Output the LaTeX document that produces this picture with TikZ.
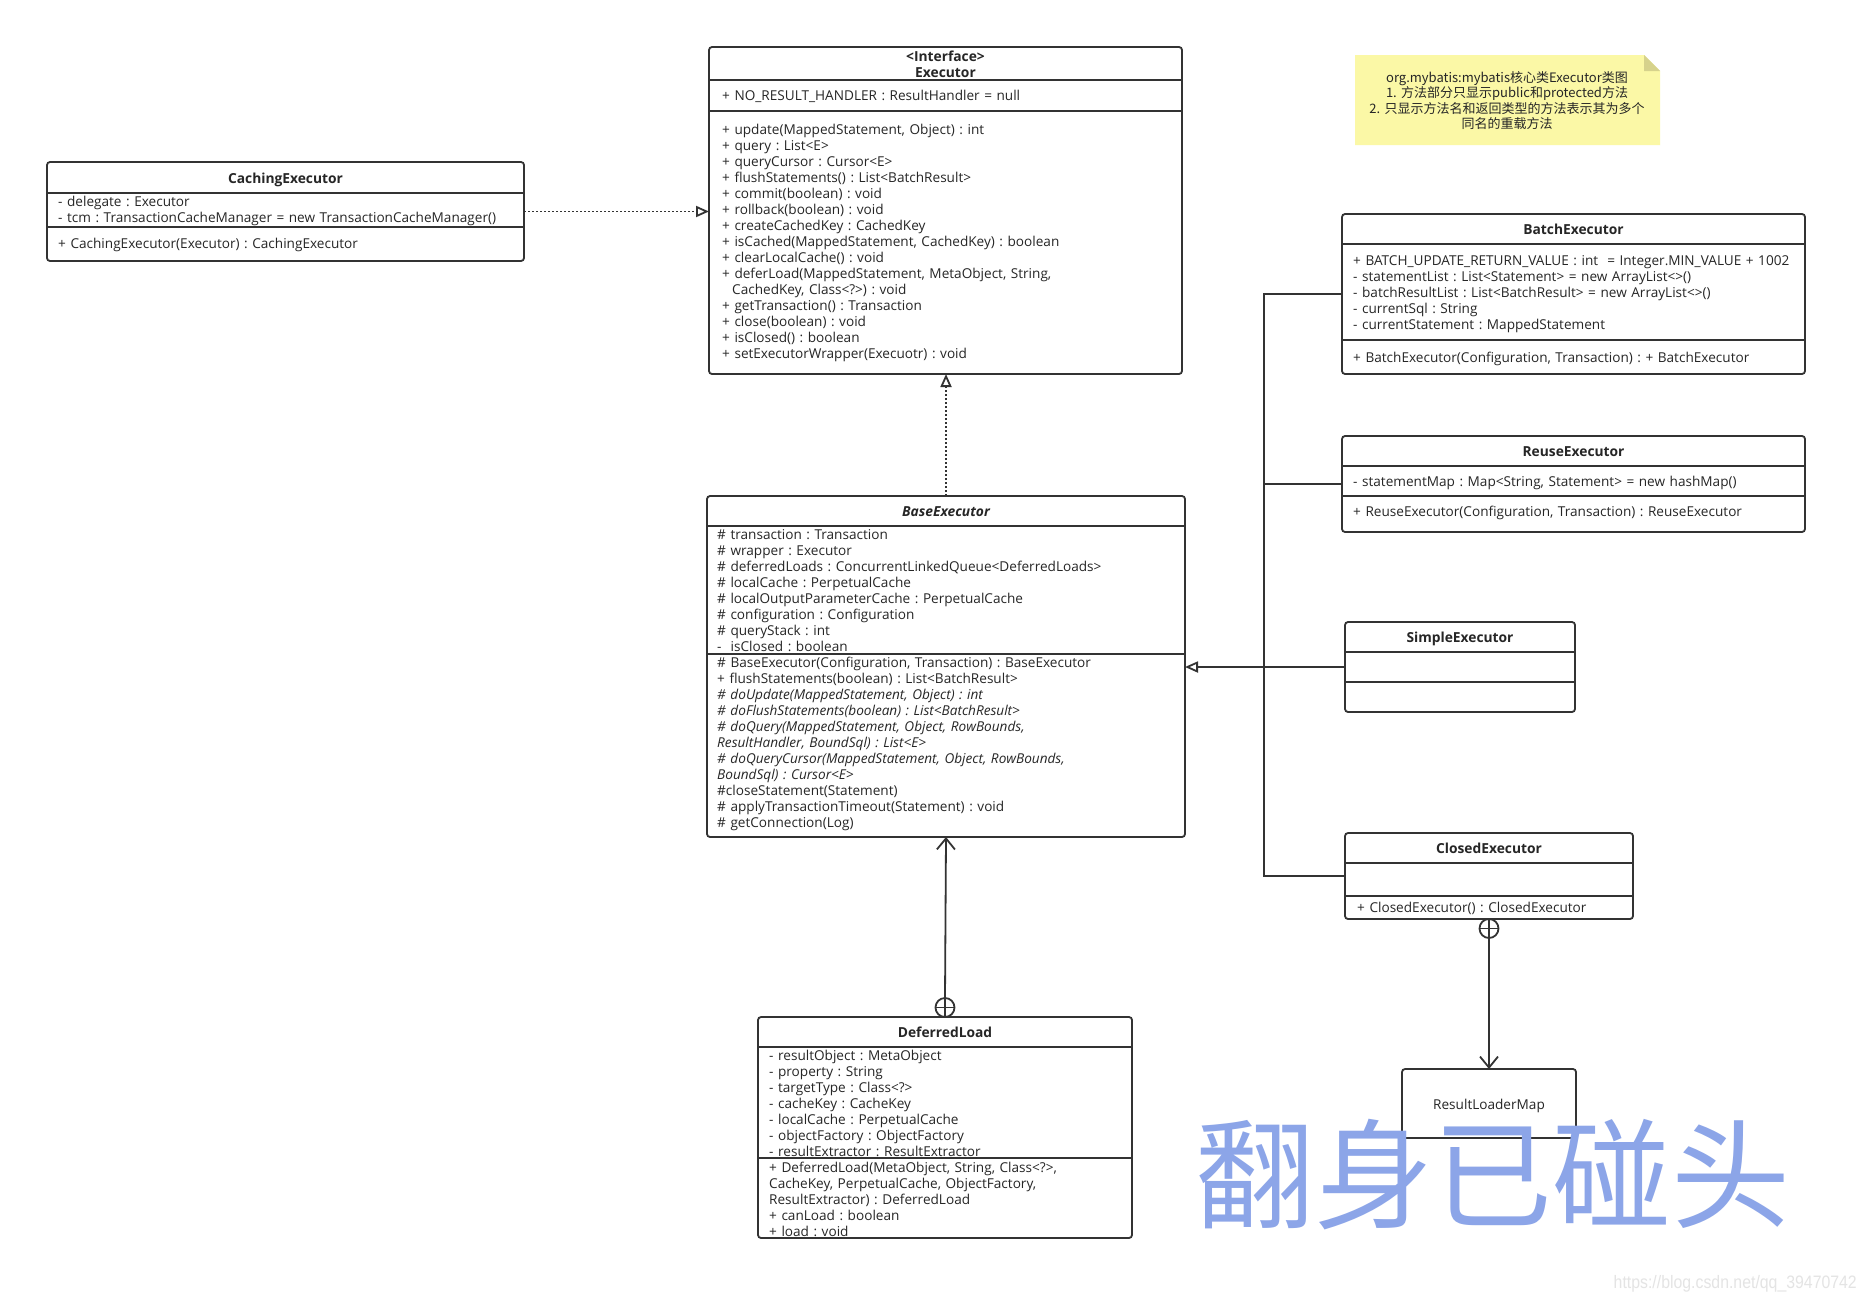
\documentclass[tikz,border=0pt]{standalone}
\usepackage{fontspec}
\setmainfont{Open Sans}
\newfontfamily\cjk{Noto Sans CJK SC}
\newfontfamily\urlfont{Liberation Sans}
\usetikzlibrary{arrows.meta}
\definecolor{lc}{HTML}{333333}
\definecolor{tc}{HTML}{262626}
\definecolor{notec}{HTML}{FBF8A6}
\definecolor{foldc}{HTML}{D6D28C}
\definecolor{wmc}{HTML}{8CA5E8}
\definecolor{urlc}{HTML}{E4E4E4}
\frenchspacing
\begin{document}
\begin{tikzpicture}[x=1pt,y=-1pt,
  box/.style={draw=lc, line width=1.8pt, rounded corners=3pt, fill=white, inner sep=0pt, outer sep=0pt, anchor=north west},
  div/.style={draw=lc, line width=1.8pt},
  ttl/.style={anchor=base, inner sep=0pt, align=center, text width=440pt, font=\frenchspacing\bfseries\fontsize{13.8}{16}\selectfont, text=tc},
  lines/.style={anchor=base west, inner sep=0pt, align=left, text width=600pt, font=\frenchspacing\fontsize{13.6}{16}\selectfont, text=tc},
  conn/.style={draw=lc, line width=1.8pt},
  dotconn/.style={draw=lc, line width=1.8pt, dash pattern=on 2pt off 2pt},
  tri/.style={-{Triangle[open, length=13pt, width=11pt, line width=1.8pt]}},
  barb/.style={-{Straight Barb[length=11pt, width=18pt, line width=1.8pt]}},
  nest/.style={circle, draw=lc, line width=1.8pt, minimum size=19pt, inner sep=0pt, outer sep=0pt, fill=white}
]
\fill[white] (0,0) rectangle (1866,1301);
\useasboundingbox (0,0) rectangle (1866,1301);

% ---------------- Executor
\node[box, minimum width=473pt, minimum height=327pt] (ex) at (709,47) {};
\draw[div] (709,80) -- (1182,80);
\draw[div] (709,111) -- (1182,111);
\node[ttl] (exT) at (945.5,61) {<Interface>\\Executor};
\node[lines] (exA) at (722,100) {+ NO\_RESULT\_HANDLER : ResultHandler = null};
\node[lines] (exM) at (722,134) {+ update(MappedStatement, Object) : int\\
+ query : List<E>\\
+ queryCursor : Cursor<E>\\
+ flushStatements() : List<BatchResult>\\
+ commit(boolean) : void\\
+ rollback(boolean) : void\\
+ createCachedKey : CachedKey\\
+ isCached(MappedStatement, CachedKey) : boolean\\
+ clearLocalCache() : void\\
+ deferLoad(MappedStatement, MetaObject, String,\\
\hspace*{10pt}CachedKey, Class<?>) : void\\
+ getTransaction() : Transaction\\
+ close(boolean) : void\\
+ isClosed() : boolean\\
+ setExecutorWrapper(Execuotr) : void};

% ---------------- CachingExecutor
\node[box, minimum width=477pt, minimum height=99pt] (ce) at (47,162) {};
\draw[div] (47,193) -- (524,193);
\draw[div] (47,227) -- (524,227);
\node[ttl] (ceT) at (285.5,183) {CachingExecutor};
\node[lines] (ceA) at (58,206) {- delegate : Executor\\
- tcm : TransactionCacheManager = new TransactionCacheManager()};
\node[lines] (ceM) at (58,248) {+ CachingExecutor(Executor) : CachingExecutor};

% ---------------- Note
\node[inner sep=0pt, outer sep=0pt, minimum width=305pt, minimum height=90pt, anchor=north west] (note) at (1355,55) {};
\fill[notec] (1355,55) -- (1644,55) -- (1660,71) -- (1660,145) -- (1355,145) -- cycle;
\fill[foldc] (1644,55) -- (1644,71) -- (1660,71) -- cycle;
\node[anchor=base, inner sep=0pt, align=center, text width=300pt, text=tc, font=\cjk\fontsize{13}{15.6}\selectfont] (noteT) at (1507,82) {org.mybatis:mybatis核心类Executor类图\\
1. 方法部分只显示public和protected方法\\
2. 只显示方法名和返回类型的方法表示其为多个\\
同名的重载方法};

% ---------------- BatchExecutor
\node[box, minimum width=463pt, minimum height=160pt] (be) at (1342,214) {};
\draw[div] (1342,244) -- (1805,244);
\draw[div] (1342,340) -- (1805,340);
\node[ttl] (beT) at (1573.5,234) {BatchExecutor};
\node[lines] (beA) at (1353,265) {+ BATCH\_UPDATE\_RETURN\_VALUE : int\ \ = Integer.MIN\_VALUE + 1002\\
- statementList : List<Statement> = new ArrayList<>()\\
- batchResultList : List<BatchResult> = new ArrayList<>()\\
- currentSql : String\\
- currentStatement : MappedStatement};
\node[lines] (beM) at (1353,362) {+ BatchExecutor(Configuration, Transaction) : + BatchExecutor};

% ---------------- ReuseExecutor
\node[box, minimum width=463pt, minimum height=96pt] (re) at (1342,436) {};
\draw[div] (1342,466) -- (1805,466);
\draw[div] (1342,496) -- (1805,496);
\node[ttl] (reT) at (1573.5,456) {ReuseExecutor};
\node[lines] (reA) at (1353,486) {- statementMap : Map<String, Statement> = new hashMap()};
\node[lines] (reM) at (1353,516) {+ ReuseExecutor(Configuration, Transaction) : ReuseExecutor};

% ---------------- BaseExecutor
\node[box, minimum width=478pt, minimum height=341pt] (bx) at (707,496) {};
\draw[div] (707,526) -- (1185,526);
\draw[div] (707,654) -- (1185,654);
\node[ttl, font=\bfseries\itshape\fontsize{13.8}{16}\selectfont] (bxT) at (946,516) {BaseExecutor};
\node[lines] (bxA) at (717,539) {\# transaction : Transaction\\
\# wrapper : Executor\\
\# deferredLoads : ConcurrentLinkedQueue<DeferredLoads>\\
\# localCache : PerpetualCache\\
\# localOutputParameterCache : PerpetualCache\\
\# configuration : Configuration\\
\# queryStack : int\\
-\ \ isClosed : boolean};
\node[lines] (bxM) at (717,667) {\# BaseExecutor(Configuration, Transaction) : BaseExecutor\\
+ flushStatements(boolean) : List<BatchResult>\\
{\itshape \# doUpdate(MappedStatement, Object) : int}\\
{\itshape \# doFlushStatements(boolean) : List<BatchResult>}\\
{\itshape \# doQuery(MappedStatement, Object, RowBounds,}\\
{\itshape ResultHandler, BoundSql) : List<E>}\\
{\itshape \# doQueryCursor(MappedStatement, Object, RowBounds,}\\
{\itshape BoundSql) : Cursor<E>}\\
\#closeStatement(Statement)\\
\# applyTransactionTimeout(Statement) : void\\
\# getConnection(Log)};

% ---------------- SimpleExecutor
\node[box, minimum width=230pt, minimum height=90pt] (se) at (1345,622) {};
\draw[div] (1345,652) -- (1575,652);
\draw[div] (1345,682) -- (1575,682);
\node[ttl] (seT) at (1460,642) {SimpleExecutor};

% ---------------- ClosedExecutor
\node[box, minimum width=288pt, minimum height=86pt] (cx) at (1345,833) {};
\draw[div] (1345,863) -- (1633,863);
\draw[div] (1345,896) -- (1633,896);
\node[ttl] (cxT) at (1489,853) {ClosedExecutor};
\node[lines] (cxM) at (1357,912) {+ ClosedExecutor() : ClosedExecutor};

% ---------------- DeferredLoad
\node[box, minimum width=374pt, minimum height=221pt] (dl) at (758,1017) {};
\draw[div] (758,1047) -- (1132,1047);
\draw[div] (758,1158) -- (1132,1158);
\node[ttl] (dlT) at (945,1037) {DeferredLoad};
\node[lines] (dlA) at (769,1060) {- resultObject : MetaObject\\
- property : String\\
- targetType : Class<?>\\
- cacheKey : CacheKey\\
- localCache : PerpetualCache\\
- objectFactory : ObjectFactory\\
- resultExtractor : ResultExtractor};
\node[lines] (dlM) at (769,1172) {+ DeferredLoad(MetaObject, String, Class<?>,\\
CacheKey, PerpetualCache, ObjectFactory,\\
ResultExtractor) : DeferredLoad\\
+ canLoad : boolean\\
+ load : void};

% ---------------- ResultLoaderMap
\node[box, minimum width=174pt, minimum height=69pt] (rl) at (1402,1069) {};
\node[anchor=base, inner sep=0pt, text=tc, font=\fontsize{13.6}{16}\selectfont] (rlT) at (1489,1109) {ResultLoaderMap};

% ---------------- connectors
\draw[dotconn, tri] (ce.east) -- (ce.east -| ex.west);
\draw[dotconn, tri] (bx.north) -- (bx.north |- ex.south);

\coordinate (tr) at (1264,667);
\draw[conn] (be.west) -- (be.west -| tr) -- (cx.west -| tr) -- (cx.west);
\draw[conn] (re.west) -- (re.west -| tr);
\draw[conn, tri] (se.west) -- (se.west -| bx.east);

\node[nest, anchor=south] (dc) at (dl.north) {};
\draw[conn] (dc.west) -- (dc.east);
\draw[conn] (dc.south) -- (dc.north);
\draw[conn, barb] (dc.north) -- (bx.south);

\node[nest, anchor=north] (cc) at (cx.south -| rl.north) {};
\draw[conn] (cc.west) -- (cc.east);
\draw[conn] (cc.north) -- (cc.south);
\draw[conn, barb] (cc.south) -- (rl.north);

% ---------------- watermarks
\node[inner sep=0pt, text=wmc, font=\cjk\fontsize{119}{119}\selectfont] (wm) at (1493,1175) {翻身已碰头};
\node[anchor=base east, inner sep=0pt, text=urlc, font=\urlfont\fontsize{18}{18}\selectfont] (url) at (1857,1288) {\scalebox{0.88}[1]{https://blog.csdn.net/qq\_39470742}};
\end{tikzpicture}
\end{document}
